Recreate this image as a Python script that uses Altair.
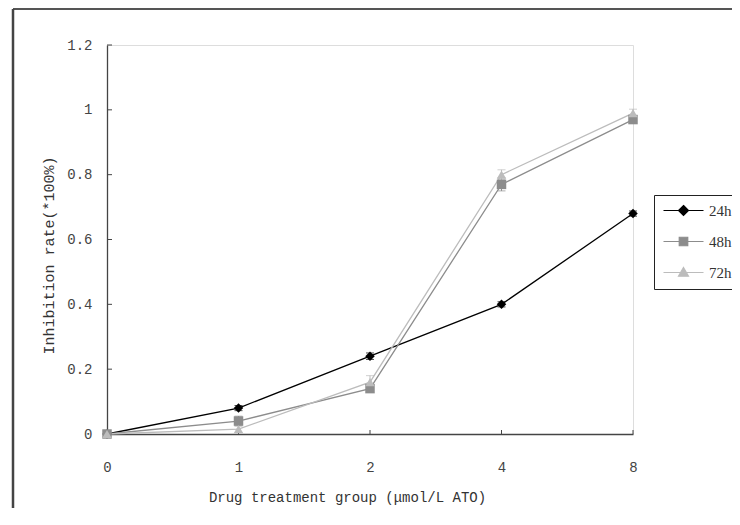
import altair as alt
import pandas as pd

doses = ["0", "1", "2", "4", "8"]
series = ["24h", "48h", "72h"]
inh_24h = [0.0, 0.08, 0.24, 0.40, 0.68]
inh_48h = [0.0, 0.04, 0.14, 0.77, 0.97]
inh_72h = [0.0, 0.015, 0.16, 0.80, 0.99]
err_24h = [0.0, 0.008, 0.01, 0.008, 0.008]
err_48h = [0.0, 0.015, 0.01, 0.02, 0.01]
err_72h = [0.0, 0.01, 0.02, 0.015, 0.012]
y_ticks = [0, 0.2, 0.4, 0.6, 0.8, 1.0, 1.2]
colors = ["#000000", "#8c8c8c", "#bcbcbc"]
shapes = ["diamond", "square", "triangle-up"]
legend_paths = [
    "M-4,0H4M0,-1L1,0L0,1L-1,0Z",
    "M-4,0H4M-0.85,-0.85H0.85V0.85H-0.85Z",
    "M-4,0H4M0,-1L1,0.75H-1Z",
]

rows = []
for s, vals, errs in zip(series, [inh_24h, inh_48h, inh_72h], [err_24h, err_48h, err_72h]):
    for i, (d, v, e) in enumerate(zip(doses, vals, errs)):
        rows.append({"series": s, "order": i, "dose": d, "value": v, "lo": v - e, "hi": v + e})
df = pd.DataFrame(rows)

W, H = 526, 389
MONO = "Liberation Mono"

x_axis = alt.Axis(
    title="Drug treatment group (μmol/L ATO)", labelAngle=0, ticks=False,
    labelPadding=26, domainColor="#444", domainWidth=1.6, grid=False,
    labelFont=MONO, labelFontSize=14, labelColor="#444", labelFontWeight="normal",
    titleFont=MONO, titleFontSize=14, titleColor="#333", titleFontWeight="normal",
    titlePadding=16, titleX=240,
)
y_axis = alt.Axis(
    title="Inhibition rate(*100%)", values=y_ticks, format="~g", ticks=False,
    labelPadding=15, domainColor="#444", domainWidth=1.3, grid=False,
    labelFont=MONO, labelFontSize=14, labelColor="#444",
    titleFont=MONO, titleFontSize=15, titleColor="#333", titleFontWeight="normal",
    titlePadding=10, titleY=210,
)
x_scale = alt.Scale(type="point", padding=0)
y_scale = alt.Scale(domain=[0, 1.2])


def X(field="dose"):
    return alt.X(f"{field}:O", sort=doses, scale=x_scale, axis=x_axis)


def Y(field="value"):
    return alt.Y(f"{field}:Q", scale=y_scale, axis=y_axis)


color_scale = alt.Scale(domain=series, range=colors)
col = alt.Color("series:N", scale=color_scale, legend=None)

lines = alt.Chart(df).mark_line(strokeWidth=1.3).encode(
    x=X(), y=Y(), color=col, order="order:Q",
)
err_rules = alt.Chart(df).mark_rule(strokeWidth=1).encode(
    x=X(), y=Y("lo"), y2="hi:Q", color=col,
)
err_lo = alt.Chart(df).mark_tick(size=8, thickness=1).encode(
    x=X(), y=Y("lo"), color=col,
)
err_hi = alt.Chart(df).mark_tick(size=8, thickness=1).encode(
    x=X(), y=Y("hi"), color=col,
)
points = alt.Chart(df).mark_point(filled=True, opacity=1, size=90).encode(
    x=X(), y=Y(), color=col,
    shape=alt.Shape("series:N", scale=alt.Scale(domain=series, range=shapes), legend=None),
)

ytick_df = pd.DataFrame({"value": y_ticks})
yticks = alt.Chart(ytick_df).mark_rule(color="#444", strokeWidth=1).encode(
    y=Y(), x=alt.value(0), x2=alt.value(5)
)
xtick_df = pd.DataFrame({"dose": doses})
xticks = alt.Chart(xtick_df).mark_rule(color="#444", strokeWidth=1).encode(
    x=X(), y=alt.value(H), y2=alt.value(H - 4)
)

frame_df = pd.DataFrame({"k": [0]})
frame_top = alt.Chart(frame_df).mark_rule(color="#555", strokeWidth=2).encode(
    x=alt.value(-94), x2=alt.value(W + 200), y=alt.value(-36)
)
frame_left = alt.Chart(frame_df).mark_rule(color="#444", strokeWidth=2.5).encode(
    x=alt.value(-94), y=alt.value(-36), y2=alt.value(H + 200)
)

sym_expr = ""
for s, c in zip(series, colors):
    sym_expr += f"datum.value === '{s}' ? '{c}' : "
sym_expr += "'#000000'"

leg = alt.Legend(
    orient="none", legendX=547, legendY=150, title=None,
    strokeColor="#222", fillColor="white", padding=8,
    symbolSize=100, symbolOffset=14, symbolStrokeWidth=1.2,
    symbolFillColor=alt.ExprRef(expr=sym_expr),
    symbolStrokeColor=alt.ExprRef(expr=sym_expr),
    labelOffset=18, labelFont="Liberation Serif", labelFontSize=15, labelColor="#333",
    rowPadding=15,
)
legend_layer = alt.Chart(df).mark_point(filled=True, opacity=1, size=0).encode(
    x=X(), y=Y(),
    shape=alt.Shape("series:N", scale=alt.Scale(domain=series, range=legend_paths), legend=leg),
    fill=alt.Fill("series:N", scale=alt.Scale(domain=series, range=colors), legend=leg),
    stroke=alt.Stroke("series:N", scale=alt.Scale(domain=series, range=colors), legend=leg),
)

chart = alt.layer(
    frame_top, frame_left, yticks, xticks, lines, err_rules, err_lo, err_hi, points, legend_layer
).resolve_scale(shape="independent").properties(
    width=W, height=H,
    autosize=alt.AutoSizeParams(type="none"),
    padding={"left": 99, "top": 37, "right": 99, "bottom": 74},
).configure_view(stroke=None).configure_legend(strokeWidth=1.5).configure(background="white")

chart.save("out.html", embed_options={"renderer": "svg", "actions": False})
